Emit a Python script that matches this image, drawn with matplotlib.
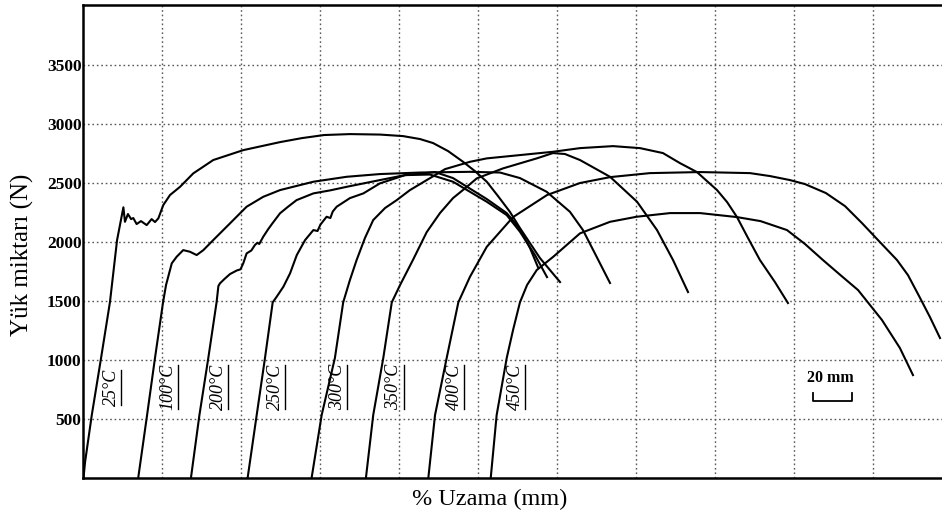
import numpy as np
import matplotlib
matplotlib.use("Agg")
import matplotlib.pyplot as plt

plt.rcParams['font.family'] = ['Liberation Serif', 'DejaVu Serif']

# elongation (mm) / load (N) curves per test temperature
t25_x = [0, 0.8, 4.2, 8.9, 13.4, 17.0, 20.2, 21.0, 22.5, 24.1, 25.2, 26.9, 29.1, 32.0, 34.5,
         36.2, 37.9, 40.4, 43.8, 48.9, 55.6, 65.7, 80.9, 99.5, 110.6, 121.8, 134.9, 150.1,
         161.8, 170.4, 177.0, 184.6, 192.2, 198.2, 204.2, 209.9, 215.9, 221.0, 231.1, 241.3]
t25_y = [0, 136, 534, 1018, 1492, 2018, 2296, 2173, 2239, 2196, 2205, 2154, 2179, 2145, 2196,
         2171, 2202, 2315, 2400, 2470, 2584, 2697, 2781, 2849, 2883, 2909, 2917, 2913,
         2900, 2875, 2841, 2773, 2682, 2603, 2513, 2391, 2258, 2120, 1866, 1662]

t100_x = [27.7, 32.2, 36.2, 40.3, 41.8, 42.9, 44.7, 47.2, 50.5, 53.9, 57.3, 60.7, 65.7, 74.2,
          82.6, 91.0, 99.5, 116.4, 133.3, 150.1, 170.4, 195.7, 210.9, 221.0, 234.5, 246.3,
          252.9, 259.8, 266.6]
t100_y = [0, 534, 1018, 1492, 1637, 1707, 1821, 1877, 1933, 1919, 1891, 1933, 2018, 2160,
          2301, 2385, 2442, 2513, 2555, 2578, 2591, 2597, 2591, 2544, 2428, 2258,
          2103, 1877, 1654]

t200_x = [54.4, 58.7, 63.2, 67.4, 68.3, 69.1, 71.5, 74.2, 77.6, 79.5, 80.9, 82.6, 85.0, 86.8,
          88.0, 89.0, 91.0, 93.5, 95.4, 99.5, 103.5, 107.9, 116.4, 125.0, 133.3, 150.1, 162.8,
          175.4, 187.1, 204.2, 214.3, 221.0, 228.6, 234.7]
t200_y = [0, 534, 1018, 1492, 1628, 1651, 1690, 1730, 1760, 1770, 1821, 1905, 1930, 1976,
          1995, 1985, 2046, 2110, 2154, 2245, 2300, 2357, 2414, 2440, 2470, 2527, 2569,
          2574, 2513, 2343, 2230, 2089, 1891, 1704]

t250_x = [83.1, 87.7, 91.9, 95.8, 97.8, 101.2, 104.6, 108.0, 112.2, 116.4, 118.5, 120.0, 123.1,
          125.0, 126.2, 128.2, 134.9, 141.7, 150.1, 162.8, 178.0, 187.1, 204.2, 214.3, 221.0,
          226.1, 230.1]
t250_y = [0, 534, 1018, 1490, 1537, 1622, 1736, 1891, 2018, 2103, 2095, 2150, 2216,
          2205, 2260, 2301, 2374, 2414, 2499, 2569, 2595, 2544, 2366, 2247, 2112,
          1950, 1789]

t300_x = [115.5, 120.6, 127.3, 131.5, 134.9, 138.3, 142.5, 146.7, 152.7, 158.6, 165.3, 173.8,
          183.1, 195.7, 204.2, 221.0, 237.7, 251.4, 268.1, 281.8, 293.4, 302.0, 310.6, 320.8,
          325.9, 330.9, 336.5, 342.5, 350.1, 356.7]
t300_y = [0, 534, 1018, 1490, 1679, 1849, 2035, 2188, 2290, 2357, 2442, 2527,
          2620, 2682, 2711, 2739, 2767, 2798, 2815, 2798, 2756, 2671, 2595, 2442,
          2340, 2213, 2035, 1849, 1662, 1484]

t350_x = [143.0, 146.7, 151.8, 156.1, 160.3, 166.8, 173.8, 180.5, 187.1, 194.0, 199.1, 212.4,
          229.5, 237.7, 243.8, 251.4, 266.6, 280.3, 290.4, 298.5, 306.1]
t350_y = [0, 534, 1018, 1490, 1637, 1849, 2086, 2247, 2374, 2468, 2541, 2626,
          2711, 2756, 2748, 2697, 2555, 2343, 2103, 1849, 1577]

t400_x = [174.6, 178.0, 183.9, 189.8, 195.7, 204.2, 217.5, 234.7, 251.4, 266.6, 286.8, 312.2,
          337.5, 347.6, 357.7, 365.3, 375.9, 385.6, 394.2, 402.3, 411.9, 417.5, 423.5, 428.6,
          433.7]
t400_y = [0, 534, 1018, 1490, 1707, 1961, 2213, 2400, 2502, 2552, 2586, 2595,
          2586, 2561, 2527, 2493, 2417, 2306, 2162, 2018, 1849, 1720, 1530, 1365,
          1187]

t450_x = [206.2, 209.2, 214.3, 217.5, 221.0, 224.6, 229.5, 237.9, 251.4, 266.6, 280.1, 297.0,
          312.2, 330.9, 342.8, 356.2, 365.3, 374.4, 383.0, 392.2, 404.3, 413.4, 420.0]
t450_y = [0, 534, 1018, 1255, 1490, 1637, 1764, 1877, 2075, 2173, 2216, 2247,
          2247, 2213, 2179, 2103, 1985, 1849, 1725, 1594, 1340, 1102, 873]

curves = [(t25_x, t25_y), (t100_x, t100_y), (t200_x, t200_y), (t250_x, t250_y),
          (t300_x, t300_y), (t350_x, t350_y), (t400_x, t400_y), (t450_x, t450_y)]

temp_labels = ['25°C', '100°C', '200°C', '250°C', '300°C', '350°C', '400°C', '450°C']
label_x = [14.3, 42.9, 68.3, 97.0, 128.6, 157.2, 187.6, 218.9]
label_y = [770, 770, 770, 770, 770, 770, 770, 775]

y_ticks = [500, 1000, 1500, 2000, 2500, 3000, 3500]
x_grid = [40, 80, 120, 160, 200, 240, 280, 320, 360, 400]

fig = plt.figure(figsize=(9.42, 5.23), dpi=100)
ax = fig.add_axes([83 / 942, 45 / 523, 1 - 83 / 942, 473 / 523])
ax.set_xlim(-0.25, 434.7)
ax.set_ylim(0, 4012)

# dotted grid
for gx in x_grid:
    ax.axvline(gx, color='0.35', lw=1.0, ls=(0, (1.2, 2.0)), zorder=1)
for gy in y_ticks:
    ax.axhline(gy, color='0.35', lw=1.0, ls=(0, (1.2, 2.0)), zorder=1)

for cx, cy in curves:
    ax.plot(cx, cy, color='black', lw=1.5, solid_joinstyle='round', zorder=3)

ax.set_xticks([])
ax.set_yticks(y_ticks)
ax.set_yticklabels([str(v) for v in y_ticks], fontsize=12.5, fontweight='bold')
ax.tick_params(axis='y', length=0, pad=1)

for side in ['left', 'bottom', 'top']:
    ax.spines[side].set_linewidth(1.8)
ax.spines['right'].set_visible(False)

ax.set_ylabel('Yük miktarı (N)', fontsize=18, va='center')
ax.yaxis.set_label_coords(-0.07, 0.471)
ax.set_xlabel('% Uzama (mm)', fontsize=17.5)
ax.xaxis.set_label_coords(0.474, -0.022)

# rotated temperature labels with an underline on the baseline side
label_texts = []
for lx, ly, lt in zip(label_x, label_y, temp_labels):
    t = ax.text(lx, ly, lt, rotation=90, ha='center', va='center',
                fontsize=13, style='italic', zorder=4)
    label_texts.append(t)

fig.canvas.draw()
inv = ax.transData.inverted()
for t in label_texts:
    bb = t.get_window_extent()
    (x0, y0), (x1, y1) = inv.transform([[bb.x0, bb.y0], [bb.x1, bb.y1]])
    ax.plot([x1 + 0.6, x1 + 0.6], [y0 + 10, y1 - 10], color='black', lw=1.0, zorder=4)

# 20 mm scale bar
ax.text(378, 845, '20 mm', ha='center', va='center', fontsize=11.5, fontweight='bold')
ax.plot([369.3, 369.3, 389.3, 389.3], [718, 649, 649, 718], color='black', lw=1.3)

fig.savefig('out.png', dpi=100)
